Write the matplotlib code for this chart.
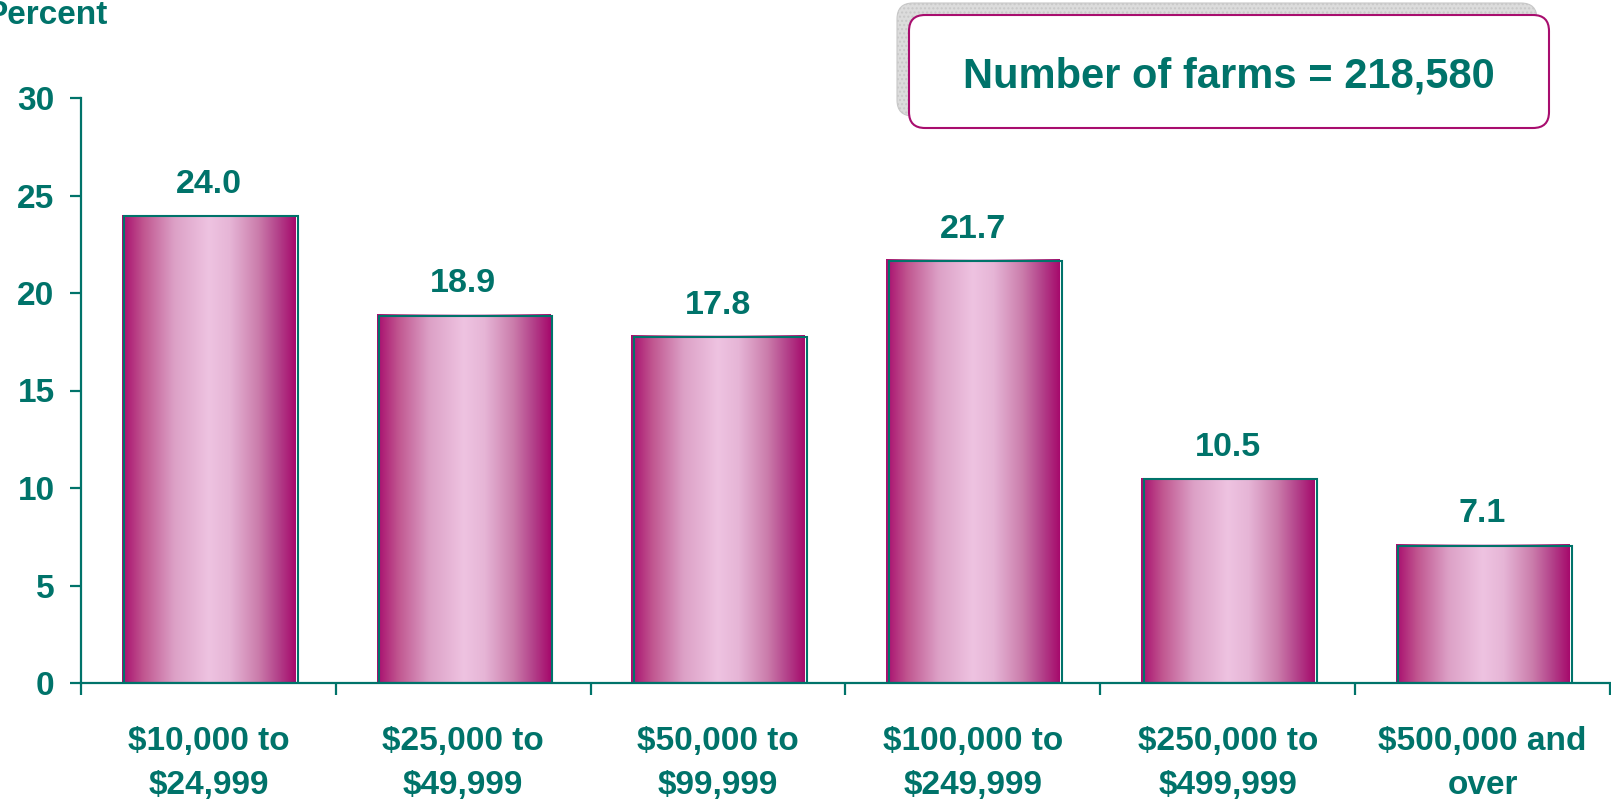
import matplotlib
matplotlib.use('Agg')
import matplotlib.pyplot as plt
from matplotlib.colors import LinearSegmentedColormap
from matplotlib.patches import Rectangle, FancyBboxPatch
from matplotlib.transforms import IdentityTransform
import numpy as np

plt.rcParams['font.family'] = ['Liberation Sans', 'DejaVu Sans']
plt.rcParams['font.weight'] = 'bold'

# data
categories = ['$10,000 to\n$24,999', '$25,000 to\n$49,999', '$50,000 to\n$99,999',
              '$100,000 to\n$249,999', '$250,000 to\n$499,999', '$500,000 and\nover']
percents = [24.0, 18.9, 17.8, 21.7, 10.5, 7.1]
value_labels = ['24.0', '18.9', '17.8', '21.7', '10.5', '7.1']
y_ticks = [0, 5, 10, 15, 20, 25, 30]
farm_note = 'Number of farms = 218,580'

teal = '#00736A'
magenta = '#A80D6E'

fig = plt.figure(figsize=(16.11, 8.01), dpi=100)
ax = fig.add_axes([81 / 1611, 1 - 683 / 801, 1529 / 1611, (683 - 98) / 801])

# shiny cylinder-ish gradient across each bar
grad = LinearSegmentedColormap.from_list('shine', [
    (0.0, '#A80D6E'), (0.12, '#C0558F'), (0.3, '#DCA0C6'), (0.5, '#EEC3E1'),
    (0.62, '#E6B5D6'), (0.78, '#CC7FAD'), (0.9, '#B3418A'), (1.0, '#A60A6C')])
strip = np.linspace(0, 1, 256).reshape(1, -1)

bar_w = 0.68
for i, v in enumerate(percents):
    x0 = i - bar_w / 2
    ax.imshow(strip, cmap=grad, extent=[x0, x0 + bar_w, 0, v], aspect='auto',
              interpolation='bicubic', zorder=2)
    ax.add_patch(Rectangle((x0 + 0.01, 0), bar_w, v - 0.06, fill=False,
                           edgecolor=teal, linewidth=1.5, zorder=3))
    ax.annotate(value_labels[i], xy=(i, v), xytext=(0, 22), textcoords='offset points',
                ha='center', va='center', fontsize=24.5, fontweight='bold', color=teal)
    ax.annotate(categories[i], xy=(i, 0), xycoords=('data', 'axes fraction'),
                xytext=(0, -58), textcoords='offset points', ha='center', va='center',
                fontsize=24, fontweight='bold', color=teal, linespacing=1.52)

ax.set_xlim(-0.5, len(percents) - 0.5)
ax.set_ylim(0, 30)
ax.set_xticks(np.arange(len(percents) + 1) - 0.5)
ax.set_xticklabels([])
ax.set_yticks(y_ticks)
ax.set_yticklabels([str(t) for t in y_ticks])

for s in ['top', 'right']:
    ax.spines[s].set_visible(False)
for s in ['left', 'bottom']:
    ax.spines[s].set_color(teal)
    ax.spines[s].set_linewidth(1.6)
    ax.spines[s].set_zorder(4)
ax.tick_params(axis='x', direction='out', length=8.5, width=1.6, color=teal)
ax.tick_params(axis='y', direction='out', length=8, width=1.6, color=teal,
               labelcolor=teal, labelsize=24, pad=11)
for lab in ax.get_yticklabels():
    lab.set_fontweight('bold')

fig.text(108 / 1611, 1 - 15 / 801, 'Percent', ha='right', va='center',
         fontsize=24, fontweight='bold', color=teal)

# note box with a grey shadow
bx, by, bw, bh = 909, 801 - 128, 640, 113
shadow = FancyBboxPatch((bx - 12, by + 12), bw, bh, boxstyle='round,pad=0,rounding_size=16',
                        transform=IdentityTransform(), facecolor='#dcdcdc',
                        edgecolor='#c8c8c8', linewidth=0.8, hatch='....', zorder=1)
box = FancyBboxPatch((bx, by), bw, bh, boxstyle='round,pad=0,rounding_size=16',
                     transform=IdentityTransform(), facecolor='white',
                     edgecolor=magenta, linewidth=1.5, zorder=2)
fig.patches.extend([shadow, box])
fig.text((bx + bw / 2) / 1611, (by + bh / 2 - 5) / 801, farm_note, ha='center', va='center',
         fontsize=30, fontweight='bold', color=teal, zorder=3)

fig.savefig('out.png', dpi=100)
